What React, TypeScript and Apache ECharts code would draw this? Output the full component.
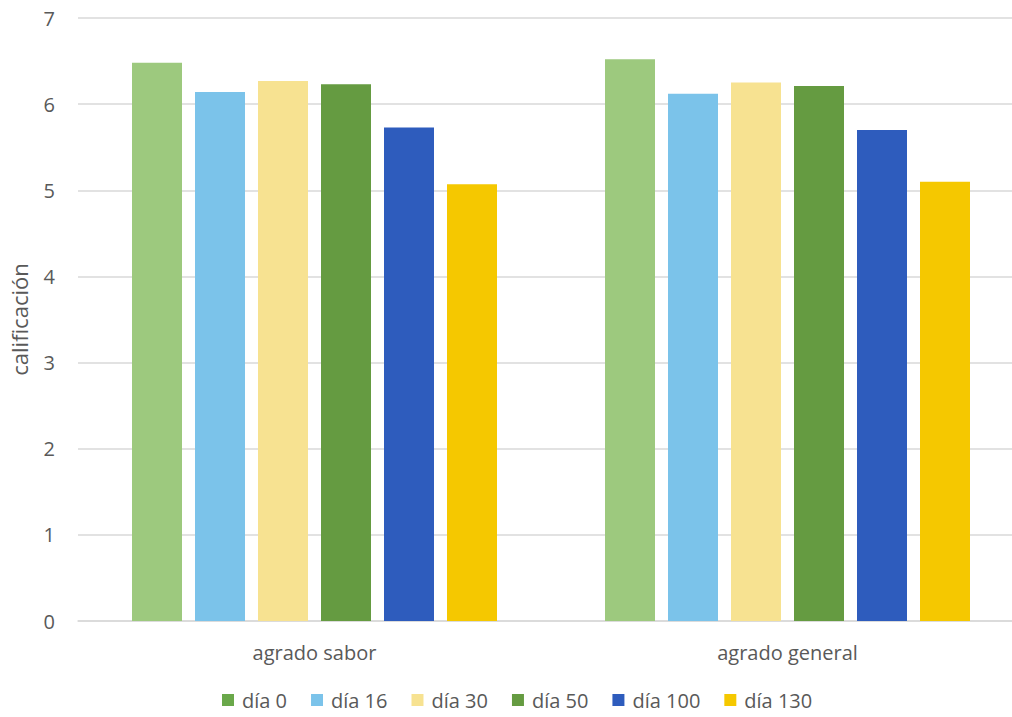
import React, { useEffect, useRef } from "react";
import * as echarts from "echarts";

const categories = ["agrado sabor", "agrado general"];
const seriesNames = ["día 0", "día 16", "día 30", "día 50", "día 100", "día 130"];
const dia0 = [6.48, 6.52];
const dia16 = [6.14, 6.12];
const dia30 = [6.27, 6.25];
const dia50 = [6.23, 6.21];
const dia100 = [5.73, 5.70];
const dia130 = [5.07, 5.10];
const seriesValues = [dia0, dia16, dia30, dia50, dia100, dia130];
const barColors = ["#9DC97E", "#7BC3EA", "#F7E291", "#659B41", "#2E5CBD", "#F5C800"];
const legendColors = ["#6AA84A", "#7BC3EA", "#F7E291", "#659B41", "#2E5CBD", "#F5C800"];

const FONT = "'Open Sans', 'Noto Sans', sans-serif";
const TEXT = "#595959";

export default function App() {
  const ref = useRef<HTMLDivElement>(null);
  useEffect(() => {
    if (!ref.current) return;
    const chart = echarts.init(ref.current, null, { renderer: "svg" });
    chart.setOption({
      animation: false,
      backgroundColor: "#ffffff",
      textStyle: { fontFamily: FONT, color: TEXT },
      grid: { left: 78, right: -12, top: 18, bottom: 96, containLabel: false, outerBoundsMode: "none" },
      legend: {
        top: 688,
        left: 217,
        itemWidth: 12,
        itemHeight: 12,
        itemGap: 24,
        padding: [2, 5, 2, 5],
        icon: "rect",
        textStyle: { fontFamily: FONT, fontSize: 20, color: TEXT, padding: [0, 0, 0, 3] },
        data: seriesNames.map((n, i) => ({ name: n, itemStyle: { color: legendColors[i] } })),
      },
      xAxis: {
        type: "category",
        data: categories,
        axisLine: { lineStyle: { color: "#d9d9d9", width: 1.5 } },
        axisTick: { show: false },
        axisLabel: { fontFamily: FONT, fontSize: 20, color: TEXT, margin: 21 },
      },
      yAxis: {
        type: "value",
        min: 0,
        max: 7,
        interval: 1,
        name: "calificación",
        nameLocation: "middle",
        nameGap: 48,
        nameTextStyle: { fontFamily: FONT, fontSize: 22, color: TEXT },
        axisLine: { show: false },
        axisTick: { show: false },
        axisLabel: { fontFamily: FONT, fontSize: 20, color: TEXT, margin: 23 },
        splitLine: { lineStyle: { color: "#d9d9d9", width: 1.5 } },
      },
      series: seriesNames.map((n, i) => ({
        name: n,
        type: "bar",
        data: seriesValues[i],
        barWidth: 50,
        barGap: "26%",
        itemStyle: { color: barColors[i] },
      })),
    });
    return () => chart.dispose();
  }, []);
  return <div ref={ref} style={{ width: 1012, height: 717, position: "absolute", left: 0, top: 0 }} />;
}
